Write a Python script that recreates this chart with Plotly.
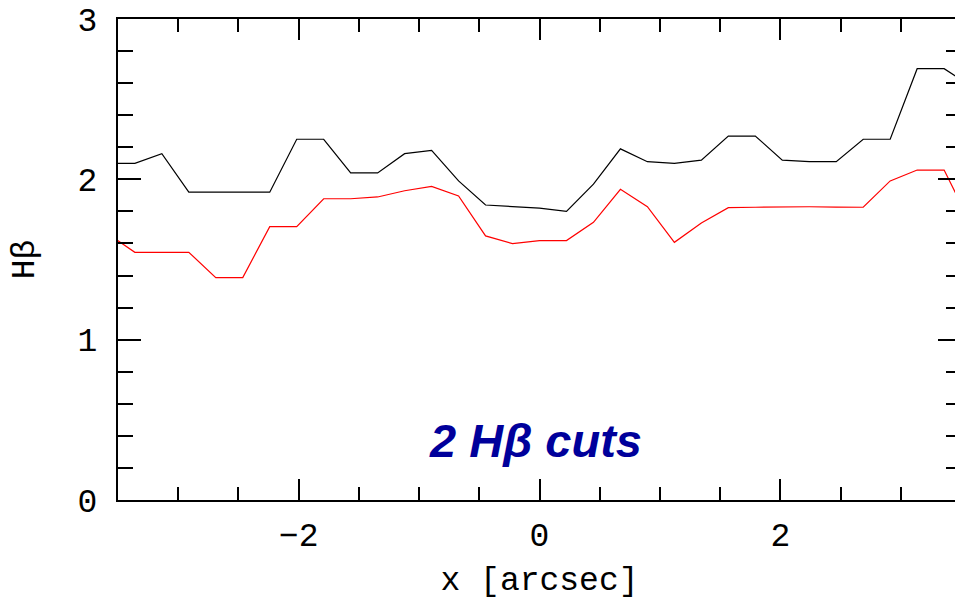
import plotly.graph_objects as go

# Slit positions along the cut (arcsec)
x_arcsec = [-3.584, -3.360, -3.136, -2.912, -2.688, -2.464, -2.240, -2.016,
            -1.792, -1.568, -1.344, -1.120, -0.896, -0.672, -0.448, -0.224,
            0.000, 0.224, 0.448, 0.672, 0.896, 1.120, 1.344, 1.568,
            1.792, 2.016, 2.240, 2.464, 2.688, 2.912, 3.136, 3.360, 3.584]

# H-beta along the first cut (black)
hb_cut1 = [2.10, 2.10, 2.16, 1.92, 1.92, 1.92, 1.92, 2.25,
           2.25, 2.04, 2.04, 2.16, 2.18, 1.99, 1.84, 1.83,
           1.82, 1.80, 1.97, 2.19, 2.11, 2.10, 2.12, 2.27,
           2.27, 2.12, 2.11, 2.11, 2.25, 2.25, 2.69, 2.69, 2.58]

# H-beta along the second cut (red)
hb_cut2 = [1.66, 1.545, 1.545, 1.545, 1.387, 1.387, 1.705, 1.705,
           1.879, 1.879, 1.890, 1.929, 1.956, 1.896, 1.647, 1.599,
           1.618, 1.618, 1.732, 1.938, 1.829, 1.607, 1.728, 1.823,
           1.826, 1.829, 1.829, 1.827, 1.826, 1.990, 2.058, 2.058, 1.72]

x_ticks = [-2, 0, 2]
y_ticks = [0, 1, 2, 3]

fig = go.Figure()
fig.add_trace(go.Scatter(x=x_arcsec, y=hb_cut1, mode="lines",
                         line=dict(color="black", width=1.2), name="cut 1"))
fig.add_trace(go.Scatter(x=x_arcsec, y=hb_cut2, mode="lines",
                         line=dict(color="#ff0000", width=1.2), name="cut 2"))

axis_font = dict(family="Liberation Mono", size=33, color="black")

fig.update_layout(
    width=963, height=602,
    margin=dict(l=118, r=0, t=19, b=102),
    paper_bgcolor="white", plot_bgcolor="white",
    showlegend=False,
    xaxis=dict(
        range=[-3.5, 3.5], tickvals=x_ticks, ticktext=["\u22122", "0", "2"],
        ticks="inside", ticklen=21, tickwidth=2, tickcolor="black",
        minor=dict(dtick=0.5, ticks="inside", ticklen=13, tickwidth=2,
                   tickcolor="black", showgrid=False),
        showline=True, linewidth=2, linecolor="black", mirror="allticks",
        showgrid=False, zeroline=False,
        tickfont=axis_font, ticklabelstandoff=4,
        title=dict(text="x [arcsec]", font=axis_font, standoff=12),
    ),
    yaxis=dict(
        range=[0, 3], tickvals=y_ticks,
        ticks="inside", ticklen=23, tickwidth=2, tickcolor="black",
        minor=dict(dtick=0.2, ticks="inside", ticklen=15, tickwidth=2,
                   tickcolor="black", showgrid=False),
        showline=True, linewidth=2, linecolor="black", mirror="allticks",
        showgrid=False, zeroline=False,
        tickfont=axis_font, ticklabelstandoff=12,
        title=dict(text="H\u03b2", font=axis_font, standoff=33),
    ),
    annotations=[dict(
        text="<b><i>2 H\u03b2 cuts</i></b>", x=-0.03, y=0.37, xref="x", yref="y",
        showarrow=False, xanchor="center", yanchor="middle",
        font=dict(family="Liberation Sans", size=47, color="#00009b"),
    )],
)

fig.write_html(
    "out.html",
    post_script="document.documentElement.style.overflow='hidden';"
                "document.body.style.overflow='hidden';"
                "document.body.style.margin='0';",
)
